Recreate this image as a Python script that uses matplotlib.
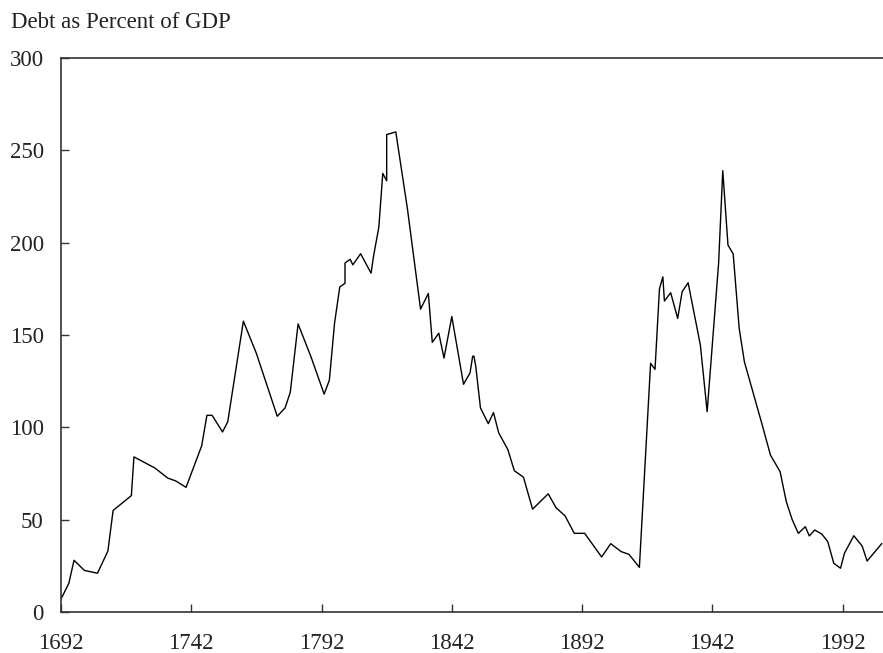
import matplotlib.pyplot as plt

# British government debt relative to GDP
years = [1692, 1695, 1697, 1701, 1706, 1710, 1712, 1719, 1720, 1728,
         1733, 1736, 1740, 1746, 1748, 1750, 1754, 1756, 1762, 1767,
         1775, 1778, 1780, 1783, 1788, 1793, 1795, 1797, 1799, 1801,
         1801, 1803, 1804, 1807, 1811, 1812, 1814, 1815.5, 1817, 1817,
         1820.5, 1825, 1830, 1833, 1834.5, 1837, 1839, 1842, 1846.5, 1849,
         1850, 1850.5, 1851.2, 1853, 1856, 1858, 1860, 1863.5, 1866, 1869.5,
         1873, 1879, 1882, 1885.5, 1889, 1893, 1899.5, 1903, 1907, 1910,
         1914, 1918.3, 1920, 1921.7, 1923, 1923.6, 1926, 1928.7, 1930.4, 1932.7,
         1937.4, 1940, 1944.4, 1946, 1948, 1950, 1952.3, 1954.3, 1961, 1964.3,
         1968, 1970.4, 1972.6, 1975, 1977.7, 1979.2, 1981.3, 1984, 1986.3, 1988.6,
         1991.2, 1992.7, 1996.3, 1999.5, 2001.4, 2007]
debt = [7, 15.5, 28, 22.5, 21, 33, 55, 63, 84, 78,
        72.5, 71, 67.5, 90, 106.5, 106.5, 97.5, 103, 157.5, 140,
        106, 110.5, 119, 156, 138, 118, 125.5, 156.5, 176, 178,
        189, 191, 188, 194, 183.5, 193, 208.5, 237.5, 233.5, 258.5,
        260, 218, 164, 172.5, 146, 151, 137.5, 160, 123.3, 129.5,
        138.5, 138.5, 133, 110.5, 102, 108, 97, 88, 76.5, 73,
        55.7, 64, 56.5, 52, 42.6, 42.6, 29.8, 37, 32.7, 31.2,
        24.2, 134.7, 131.4, 175, 181.5, 168.4, 172.9, 159, 173.4, 178.3,
        144.6, 108.5, 188.8, 239, 198.7, 193.9, 153.6, 135.5, 102, 85,
        76, 59.7, 50.2, 42.6, 46.2, 41.2, 44.4, 42.2, 38.1, 26.4,
        23.7, 31.8, 41.3, 35.7, 27.6, 37]

x_ticks = [1692, 1742, 1792, 1842, 1892, 1942, 1992]
y_ticks = [0, 50, 100, 150, 200, 250, 300]

plt.rcParams['font.family'] = ['Liberation Serif', 'DejaVu Serif']

fig = plt.figure(figsize=(8.83, 6.53), dpi=100)
ax = fig.add_axes([61 / 883, 41 / 653, 1 - 61 / 883, 554 / 653])

ax.plot(years, debt, color='black', linewidth=1.0)

ax.set_xlim(1692, 2007.5)
ax.set_ylim(0, 300)
ax.set_xticks(x_ticks)
ax.set_yticks(y_ticks)
ax.tick_params(direction='in', length=6, width=1.0, color='#333333',
               labelsize=16.5, labelcolor='#222222')
ax.tick_params(axis='x', pad=15)
ax.tick_params(axis='y', pad=12.5)

for side in ['left', 'bottom', 'top']:
    ax.spines[side].set_linewidth(1.2)
    ax.spines[side].set_color('#333333')
ax.spines['right'].set_visible(False)

fig.text(11 / 883, 1 - 22 / 653, 'Debt as Percent of GDP', fontsize=16.5,
         color='#222222', va='center', ha='left')

fig.savefig('out.png', dpi=100)
